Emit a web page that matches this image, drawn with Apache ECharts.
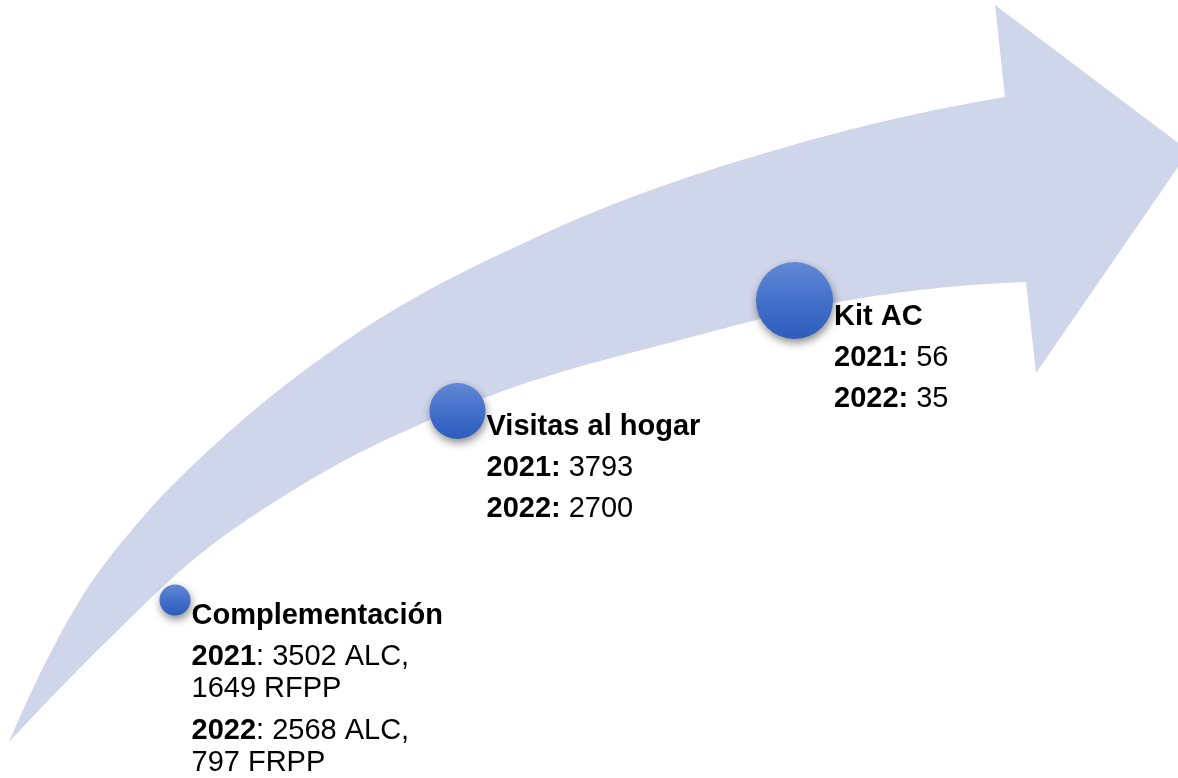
<!DOCTYPE html>
<html>
<head>
<meta charset="utf-8">
<script src="https://cdn.jsdelivr.net/npm/echarts@6/dist/echarts.min.js"></script>
<style>
    html, body { margin: 0; padding: 0; background: #ffffff; }
    #main { width: 1178px; height: 778px; }
</style>
</head>
<body>
<div id="main"></div>
<script>
// etapas del proceso
const stageNames = ['Complementación', 'Visitas al hogar', 'Kit AC'];
const values2021 = [['3502 ALC,', '1649 RFPP'], ['3793'], ['56']];
const values2022 = [['2568 ALC,', '797 FRPP'], ['2700'], ['35']];
const boldColon = [false, true, true];

// ubicacion de cada etapa sobre la flecha (ejes ocultos 0..1178 x 0..778)
const stageX = [175, 457.5, 794.5];
const stageY = [600, 411, 300.5];
const stageSize = [31, 56, 77];

// contorno de la flecha
const arrowUpper = [[9, 742], [80, 600], [143, 517], [220, 440], [350, 338], [550, 231], [800, 143], [1005, 97]];
const arrowHead = [[995, 5], [1189, 151], [1036, 373]];
const arrowLower = [[9, 742], [107, 641], [193, 560], [300, 486], [487, 397], [680, 340], [833, 303], [1026, 282]];

// borde suave y(x) con tangentes de tres puntos
function edge(pts, k) {
    const n = pts.length, h = [], d = [], m = [];
    for (let i = 0; i < n - 1; i++) {
        h[i] = pts[i + 1][0] - pts[i][0];
        d[i] = (pts[i + 1][1] - pts[i][1]) / h[i];
    }
    for (let i = 1; i < n - 1; i++) m[i] = (d[i - 1] * h[i] + d[i] * h[i - 1]) / (h[i - 1] + h[i]);
    m[0] = 2 * d[0] - m[1];
    m[n - 1] = 2 * d[n - 2] - m[n - 2];
    const out = [];
    for (let i = 0; i < n - 1; i++) {
        for (let s = 0; s < k; s++) {
            const t = s / k, t2 = t * t, t3 = t2 * t;
            const y = (2 * t3 - 3 * t2 + 1) * pts[i][1] + (t3 - 2 * t2 + t) * h[i] * m[i] +
                (-2 * t3 + 3 * t2) * pts[i + 1][1] + (t3 - t2) * h[i] * m[i + 1];
            out.push([pts[i][0] + t * h[i], y]);
        }
    }
    out.push(pts[n - 1]);
    return out;
}

const outline = edge(arrowUpper, 24)
    .concat(arrowHead)
    .concat(edge(arrowLower, 24).reverse());

function buildLabel(i) {
    const lines = ['{t|' + stageNames[i] + '}', '{g| }'];
    const year = (y, vals) => {
        const head = boldColon[i] ? '{b|' + y + ':}{r| ' : '{b|' + y + '}{r|: ';
        lines.push(head + vals[0] + '}');
        for (let k = 1; k < vals.length; k++) lines.push('{r|' + vals[k] + '}');
    };
    year('2021', values2021[i]);
    lines.push(i === 0 ? '{g2| }' : '{g| }');
    year('2022', values2022[i]);
    return lines.join('\n');
}

const font = 'Liberation Sans, Arial, sans-serif';
const chart = echarts.init(document.getElementById('main'));
chart.setOption({
    animation: false,
    backgroundColor: '#ffffff',
    grid: { left: 0, right: 0, top: 0, bottom: 0 },
    xAxis: { type: 'value', min: 0, max: 1178, show: false },
    yAxis: { type: 'value', min: 0, max: 778, inverse: true, show: false },
    series: [
        {
            type: 'custom',
            silent: true,
            z: 1,
            data: [[0, 0]],
            renderItem: function (params, api) {
                return {
                    type: 'polygon',
                    shape: { points: outline.map(p => api.coord(p)) },
                    style: { fill: '#cfd5ea' }
                };
            }
        },
        {
            type: 'scatter',
            z: 5,
            silent: true,
            data: stageNames.map((n, i) => ({
                name: n,
                value: [stageX[i], stageY[i]],
                symbolSize: stageSize[i]
            })),
            itemStyle: {
                opacity: 1,
                color: new echarts.graphic.LinearGradient(0, 0, 0, 1, [
                    { offset: 0, color: '#6289d6' },
                    { offset: 0.5, color: '#4470cb' },
                    { offset: 1, color: '#2d5cbb' }
                ]),
                shadowBlur: 8,
                shadowOffsetX: 1,
                shadowOffsetY: 4,
                shadowColor: 'rgba(0,0,0,0.45)'
            },
            label: {
                show: true,
                position: 'right',
                distance: 1,
                align: 'left',
                verticalAlign: 'top',
                formatter: p => buildLabel(p.dataIndex),
                rich: {
                    t: { fontFamily: font, fontSize: 29, fontWeight: 'bold', color: '#000', lineHeight: 32 },
                    b: { fontFamily: font, fontSize: 29, fontWeight: 'bold', color: '#000', lineHeight: 32 },
                    r: { fontFamily: font, fontSize: 29, color: '#000', lineHeight: 32 },
                    g: { fontSize: 1, lineHeight: 9 },
                    g2: { fontSize: 1, lineHeight: 10 }
                }
            }
        }
    ]
});
</script>
</body>
</html>
